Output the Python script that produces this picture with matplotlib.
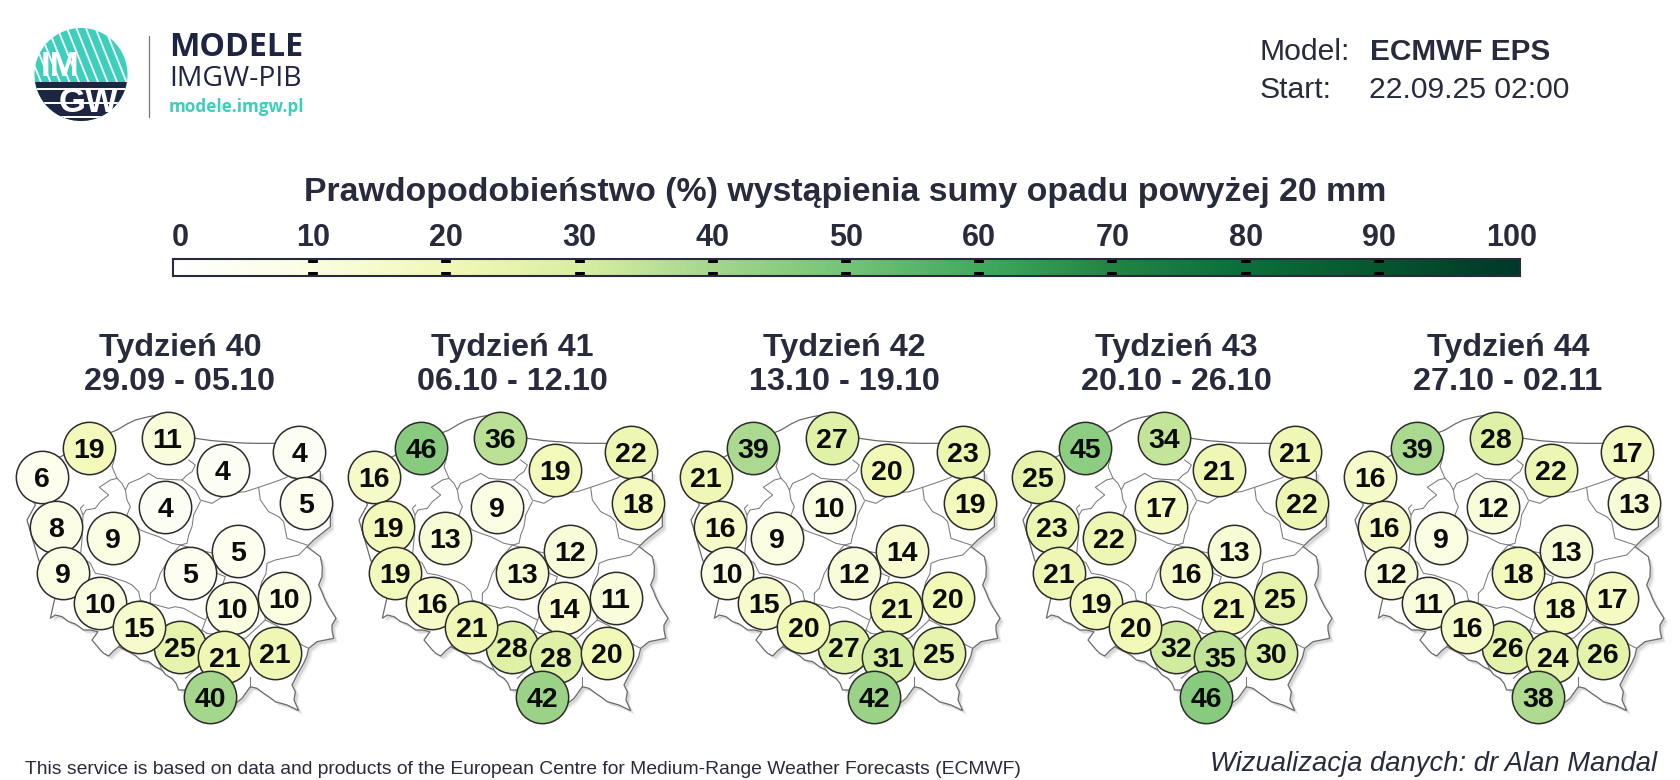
import numpy as np
import matplotlib
matplotlib.use("Agg")
import matplotlib.pyplot as plt
import matplotlib.patheffects as pe
from matplotlib.colors import LinearSegmentedColormap
from matplotlib.patches import Circle, Rectangle, Polygon

TITLE = "Prawdopodobieństwo (%) wystąpienia sumy opadu powyżej 20 mm"
WEEKS = ["Tydzień 40", "Tydzień 41", "Tydzień 42", "Tydzień 43", "Tydzień 44"]
DATES = ["29.09 - 05.10", "06.10 - 12.10", "13.10 - 19.10", "20.10 - 26.10", "27.10 - 02.11"]

site_x = [125, 268, 503, 668, 897, 917, 167, 495, 340, 713, 570, 188, 300, 697, 851, 540, 418, 673, 825, 630]
site_y = [290, 205, 175, 270, 215, 370, 440, 380, 473, 512, 578, 580, 670, 684, 653, 800, 742, 830, 820, 950]

week40 = [6, 19, 11, 4, 4, 5, 8, 4, 9, 5, 5, 9, 10, 10, 10, 25, 15, 21, 21, 40]
week41 = [16, 46, 36, 19, 22, 18, 19, 9, 13, 12, 13, 19, 16, 14, 11, 28, 21, 28, 20, 42]
week42 = [21, 39, 27, 20, 23, 19, 16, 10, 9, 14, 12, 10, 15, 21, 20, 27, 20, 31, 25, 42]
week43 = [25, 45, 34, 21, 21, 22, 23, 17, 22, 13, 16, 21, 19, 21, 25, 32, 20, 35, 30, 46]
week44 = [16, 39, 28, 22, 17, 13, 16, 12, 9, 13, 18, 12, 11, 18, 17, 26, 16, 24, 26, 38]
weeks_values = [week40, week41, week42, week43, week44]

scale_ticks = [0, 10, 20, 30, 40, 50, 60, 70, 80, 90, 100]
scale_colors = ["#ffffff", "#fbfde0", "#f2f8b6", "#d9efa2", "#a4d68c", "#74c476",
                "#41ab5d", "#238443", "#0b6f3b", "#07562f", "#003a2a"]

border_outline = [(315,90),(345,72),(370,60),(410,50),(470,40),(530,90),(550,115),(600,122),(640,125),(690,129),(730,130),(790,130),
    (850,170),(925,215),(925,240),(945,270),(955,320),(955,380),(930,400),(905,420),(885,440),(905,455),(925,470),(931,500),
    (930,530),(920,555),(928,572),(935,590),(942,605),(950,620),(972,655),(960,675),(960,690),(965,715),(940,720),(915,725),
    (890,745),(884,770),(875,790),(855,825),(840,855),(850,875),(846,900),(860,932),(825,915),(790,905),(770,890),(755,880),
    (735,865),(715,860),(690,895),(620,950),(560,905),(520,870),(500,870),(492,850),(480,835),(462,825),(450,810),(430,800),
    (410,785),(385,780),(372,768),(360,760),(340,750),(320,740),(305,752),(290,768),(275,760),(265,750),(240,720),(258,695),
    (235,690),(215,690),(190,672),(170,665),(150,650),(130,645),(115,655),(125,610),(130,590),(115,560),(80,480),(45,360),
    (70,315),(60,290),(110,190),(155,165),(240,120)]
inner_borders = [
    [(215,315),(205,325),(213,345),(222,330),(250,325),(265,305),(290,285),(262,262),(295,240),(315,235),(300,200),(308,175)],
    [(315,235),(330,250),(340,270),(350,250),(385,235),(410,220),(435,235),(465,238),(510,240),(525,225),(540,215),(550,195),(530,180)],
    [(510,240),(550,270),(565,300),(600,310),(640,285),(670,278),(700,275),(740,262),(790,245),(825,232)],
    [(340,270),(345,300),(355,320),(345,345),(385,390),(410,400),(440,410),(480,430),(505,435),(525,430),(530,405),(540,380),(545,345),(565,305)],
    [(740,262),(745,300),(770,335),(800,350),(815,365),(825,415),(855,425),(885,435)],
    [(885,440),(860,465),(790,480),(765,490),(762,520),(750,545),(745,560),(760,660),(800,680),(870,735),(890,745)],
    [(505,435),(560,450),(605,460),(615,520),(640,530),(630,560),(600,640),(585,650),(570,690),(585,700)],
    [(505,435),(475,470),(445,520),(430,565),(415,580),(415,610),(470,625),(490,620),(515,625),(560,650),(580,660)],
    [(213,345),(210,420),(205,470),(235,490),(250,520),(280,525),(340,545),(360,555),(380,575),(385,600),(415,610)],
    [(385,600),(360,640),(340,700),(320,740)],
    [(415,610),(440,660),(430,765),(450,810)],
    [(585,700),(650,710),(700,715),(760,660)],
    [(715,830),(715,860)],
    [(570,690),(560,800),(520,835)],
]
MAP_SHIFT = (36, 60)

NAVY = "#1d2542"; TEAL = "#3ccfbc"; INK = "#272b3b"
plt.rcParams["font.family"] = ["Liberation Sans", "DejaVu Sans"]

W, H = 1680, 780
fig = plt.figure(figsize=(W/100, H/100), dpi=100, facecolor="white")
cmap = LinearSegmentedColormap.from_list("prob", list(zip(np.array(scale_ticks)/100, scale_colors)))

def px_axes(x0, y0, x1, y1):
    return fig.add_axes([x0/W, 1-y1/H, (x1-x0)/W, (y1-y0)/H])

ov = px_axes(0, 0, W, H); ov.set_xlim(0, W); ov.set_ylim(H, 0); ov.axis("off")
cx, cy, r = 81, 74.5, 46.5
clip = Circle((cx, cy), r, transform=ov.transData)
ov.add_patch(Circle((cx, cy), r, fc=TEAL, ec="none", zorder=1))
for off in np.arange(-100, 120, 9.5):
    l, = ov.plot([cx+off-20, cx+off+20], [cy-50, cy+50], color="white", lw=1.3, solid_capstyle="butt", zorder=2)
    l.set_clip_path(clip)
for (y, h, c) in [(82, 50, NAVY), (88, 1.8, "white"), (102, 1.5, "white"), (116, 1.8, "white")]:
    p = ov.add_patch(Rectangle((cx-r, y), 2*r, h, fc=c, ec="none", zorder=3)); p.set_clip_path(clip)
ov.text(60, 67, "IM", color="white", fontsize=25, fontweight="bold", ha="center", va="center", zorder=5)
ov.text(88, 102, "GW", color="white", fontsize=25, fontweight="bold", ha="center", va="center", zorder=5)
ov.plot([148.5, 148.5], [36, 117], color="#777777", lw=0.9)
ov.text(169, 47, "MODELE", color=NAVY, fontsize=23.2, fontweight="bold", family="Open Sans", va="center")
ov.text(169, 79, "IMGW-PIB", color=NAVY, fontsize=20.4, family="Open Sans", va="center")
ov.text(169, 107, "modele.imgw.pl", color=TEAL, fontsize=12.3, fontweight="bold", family="Open Sans", va="center")

ov.text(1260, 52, "Model:", color=INK, fontsize=21.7, va="center")
ov.text(1370, 52, "ECMWF EPS", color=INK, fontsize=21.4, fontweight="bold", va="center")
ov.text(1260, 90, "Start:", color=INK, fontsize=21.7, va="center")
ov.text(1369, 90, "22.09.25 02:00", color=INK, fontsize=21.7, va="center")
ov.text(845, 192, TITLE, color=INK, fontsize=24.4, fontweight="bold", ha="center", va="center")
ov.text(25, 769, "This service is based on data and products of the European Centre for Medium-Range Weather Forecasts (ECMWF)",
        color=INK, fontsize=13.85, va="center")
ov.text(1657, 764, "Wizualizacja danych: dr Alan Mandal", color=INK, fontsize=19.7, style="italic", ha="right", va="center")

cb = px_axes(172.5, 259, 1519.5, 276)
lo, hi = -0.56, 100.56
cb.imshow(np.linspace(lo, hi, 800)[None, :], extent=[lo, hi, 0, 1], aspect="auto", cmap=cmap, vmin=0, vmax=100)
cb.set_xlim(lo, hi); cb.set_ylim(0, 1); cb.set_yticks([])
cb.set_xticks(scale_ticks[1:-1])
cb.xaxis.set_ticks_position("both")
cb.tick_params(axis="x", direction="in", length=2.6, width=7, color="black", labeltop=False, labelbottom=False)
for s in cb.spines.values():
    s.set_linewidth(1.5); s.set_color(INK)
for v in scale_ticks:
    ov.text(180 + v*13.32, 238, str(v), color=INK, fontsize=22, fontweight="bold", ha="center", va="center")

PANEL_STEP = 332
dx, dy = MAP_SHIFT
shifted_outline = [(x+dx, y+dy) for x, y in border_outline]
for i, vals in enumerate(weeks_values):
    ax = px_axes(i*PANEL_STEP, 380, i*PANEL_STEP+345, 780)
    ax.set_xlim(0, 1035); ax.set_ylim(1200, 0); ax.axis("off"); ax.patch.set_alpha(0)
    poly = Polygon(shifted_outline, closed=True, fc="white", ec="#6a6a6a", lw=0.9, zorder=2)
    poly.set_path_effects([pe.SimplePatchShadow(offset=(3, -3), shadow_rgbFace="#999999", alpha=0.14),
                           pe.SimplePatchShadow(offset=(2, -2), shadow_rgbFace="#888888", alpha=0.24),
                           pe.Normal()])
    ax.add_patch(poly)
    for b in inner_borders:
        xs, ys = zip(*b)
        ax.plot(np.array(xs)+dx, np.array(ys)+dy, color="#7a7a7a", lw=0.75, zorder=3)
    for k, (x, y, v) in enumerate(zip(site_x, site_y, vals)):
        ax.scatter([x], [y], s=1420, c=[v], cmap=cmap, vmin=0, vmax=100, edgecolors="#2b2b2b", linewidths=1.1, zorder=4+k*0.01)
        ax.text(x, y, str(v), color="#0c0c0c", fontsize=20.5, fontweight="bold",
                ha="center", va="center_baseline", zorder=4+k*0.01+0.001)
    ov.text(180+i*PANEL_STEP, 348, WEEKS[i], color=INK, fontsize=23.2, fontweight="bold", ha="center", va="center")
    ov.text(180+i*PANEL_STEP, 382, DATES[i], color=INK, fontsize=23.3, fontweight="bold", ha="center", va="center")

fig.savefig("out.png", dpi=100, facecolor="white")
